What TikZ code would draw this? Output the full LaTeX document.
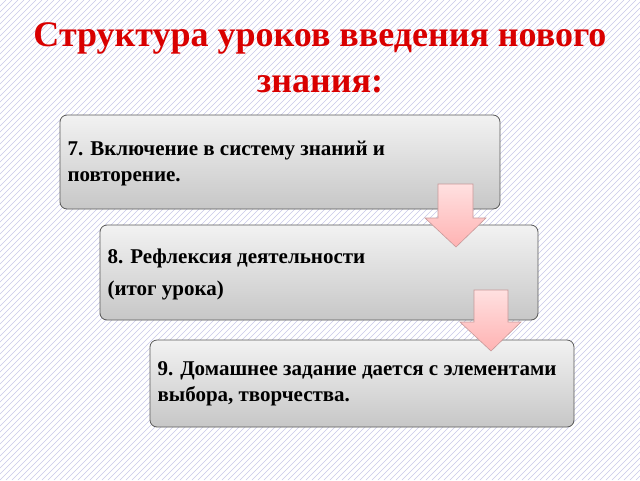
\documentclass[tikz,border=0pt]{standalone}
\usepackage{fontspec}
\setmainfont{Liberation Serif}
\begin{document}
\begin{tikzpicture}[x=1pt,y=-1pt,
  stagebox/.style={draw=black!65,line width=0.8pt,rounded corners=7pt,top color=black!5,bottom color=black!22},
  pinkarrow/.style={draw=red!45!black!40,line width=0.6pt,top color=red!12,bottom color=red!30,line join=miter},
  txt/.style={font=\bfseries\fontsize{21}{26}\selectfont,anchor=west,align=left}]
\useasboundingbox (0,0) rectangle (640,480);
\fill[white] (0,0) rectangle (640,480);
\begin{scope}
\clip (0,0) rectangle (640,480);
\foreach \i in {0,6,...,1130} {
  \draw[blue!40!gray!30,line width=0.5pt] (\i,0) -- (\i-480,480);
}
\end{scope}
\node[font=\bfseries\fontsize{36}{46}\selectfont,text=red!85!black,align=center] (title) at (320,58) {Структура уроков введения нового\\знания:};
\draw[stagebox] (60,115) rectangle (500,209);
\node[txt] (t1) at (64,164) {7. Включение в систему знаний и\\повторение.};
\draw[stagebox] (100,225) rectangle (538,320);
\node[txt,align=left] (t2) at (104,274) {8. Рефлексия деятельности\\[6pt](итог урока)};
\draw[stagebox] (150,340) rectangle (574,427);
\node[txt] (t3) at (154,384) {9. Домашнее задание дается с элементами\\выбора, творчества.};
\draw[pinkarrow] (438,184) -- (473,184) -- (473,218) -- (486,218) -- (456,247) -- (425,218) -- (438,218) -- cycle;
\draw[pinkarrow] (474,290) -- (508,290) -- (508,322) -- (521,322) -- (491,351) -- (460,322) -- (474,322) -- cycle;
\end{tikzpicture}
\end{document}
